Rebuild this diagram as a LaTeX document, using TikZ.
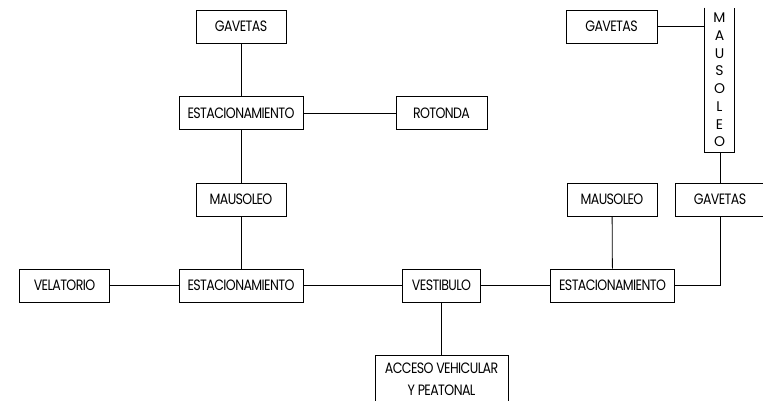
\documentclass[tikz,border=0pt]{standalone}
\usepackage{fontspec}
\setmainfont{Poppins}[FakeStretch=0.84, LetterSpace=-4]
\newfontfamily\vertfont{Poppins}
\begin{document}
\begin{tikzpicture}[x=1pt, y=-1pt,
  line width=0.8pt,
  every node/.style={font=\fontsize{15}{18}\selectfont, inner sep=0pt},
  room/.style={draw, minimum height=33pt, align=center},
  link/.style={draw}]
\useasboundingbox (0,0) rectangle (763,400);
% top-left column
\node[room, minimum width=90pt]  (gav1) at (241,26.5) {GAVETAS};
\node[room, minimum width=124pt] (est1) at (241,113) {ESTACIONAMIENTO};
\node[room, minimum width=91pt]  (rot)  at (441.5,113) {ROTONDA};
\node[room, minimum width=90pt]  (mau1) at (241,199.5) {MAUSOLEO};
% bottom row
\node[room, minimum width=90pt]  (vel)  at (64.5,285.5) {VELATORIO};
\node[room, minimum width=124pt] (est2) at (241,285.5) {ESTACIONAMIENTO};
\node[room, minimum width=78pt]  (ves)  at (441.5,285.5) {VESTIBULO};
\node[room, minimum width=124pt] (est3) at (612.5,285.5) {ESTACIONAMIENTO};
\node[room, minimum width=133pt, minimum height=47pt, anchor=north,
      font=\fontsize{15}{22}\selectfont] (acc) at (441.5,355) {ACCESO VEHICULAR\\Y PEATONAL};
% right part
\node[room, minimum width=91pt]  (gav2) at (611.5,26.5) {GAVETAS};
\node[room, minimum width=90pt]  (mau3) at (612,199.5) {MAUSOLEO};
\node[room, minimum width=90pt]  (gav3) at (720,199.5) {GAVETAS};
\node[minimum width=29pt, minimum height=144pt, align=center,
      font=\vertfont\fontsize{14}{17.7}\selectfont] (mau2) at (719.5,80)
      {M\\A\\U\\S\\O\\L\\E\\O};
\draw (mau2.north west) -- (mau2.south west) -- (mau2.south east) -- (mau2.north east);
% connectors
\draw[link] (gav1) -- (est1);
\draw[link] (est1) -- (rot);
\draw[link] (est1) -- (mau1);
\draw[link] (mau1) -- (est2);
\draw[link] (vel) -- (est2);
\draw[link] (est2) -- (ves);
\draw[link] (ves) -- (est3);
\draw[link] (ves) -- (acc);
\draw[link] (mau3) -- (est3);
\draw[link] (est3.east) -| (gav3.south);
\draw[link] (gav3.north) -- (gav3.north |- mau2.south);
\draw[link] (gav2.east) -- (gav2.east -| mau2.west);
\end{tikzpicture}
\end{document}
